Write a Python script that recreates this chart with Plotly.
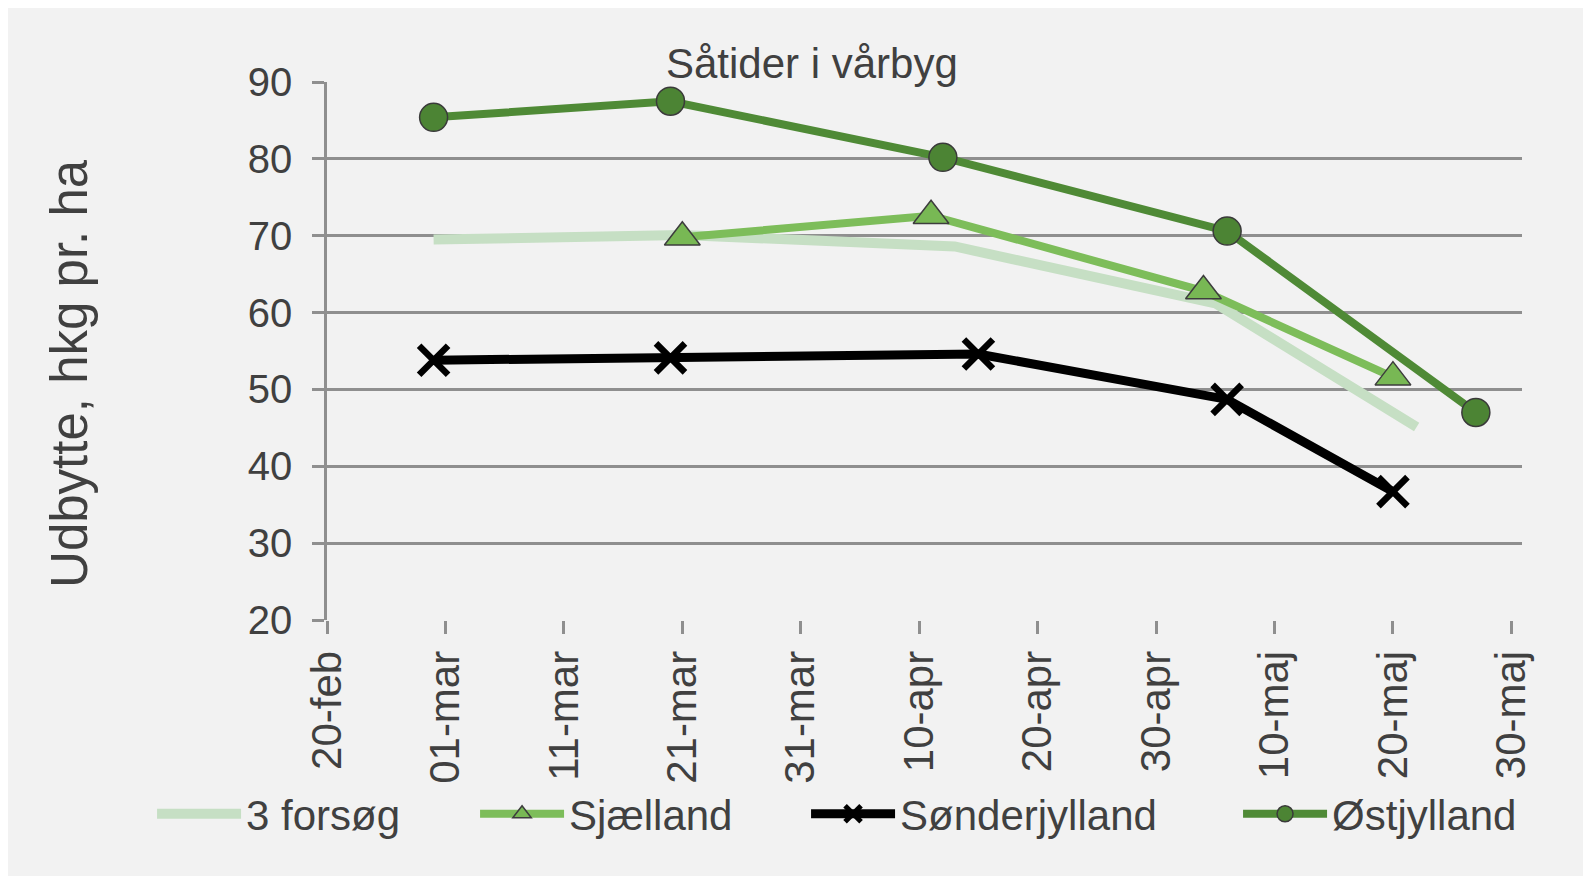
import plotly.graph_objects as go

# ---- data ----
title_text = "Såtider i vårbyg"
y_title = "Udbytte, hkg pr. ha"

tick_dates = ["2020-02-20", "2020-03-01", "2020-03-11", "2020-03-21", "2020-03-31",
              "2020-04-10", "2020-04-20", "2020-04-30", "2020-05-10", "2020-05-20", "2020-05-30"]
tick_labels = ["20-feb", "01-mar", "11-mar", "21-mar", "31-mar",
               "10-apr", "20-apr", "30-apr", "10-maj", "20-maj", "30-maj"]

forsoeg_dates = ["2020-02-29", "2020-03-21", "2020-04-13", "2020-05-05", "2020-05-22"]
forsoeg_vals = [69.5, 70.1, 68.6, 61.2, 45.1]

sjaelland_dates = ["2020-03-21", "2020-04-11", "2020-05-04", "2020-05-20"]
sjaelland_vals = [69.8, 72.6, 62.8, 51.6]

sonder_dates = ["2020-02-29", "2020-03-20", "2020-04-15", "2020-05-06", "2020-05-20"]
sonder_vals = [53.8, 54.1, 54.6, 48.7, 36.7]

ost_dates = ["2020-02-29", "2020-03-20", "2020-04-12", "2020-05-06", "2020-05-27"]
ost_vals = [85.4, 87.5, 80.2, 70.6, 47.0]

series_names = ["3 forsøg", "Sjælland", "Sønderjylland", "Østjylland"]

# ---- styling ----
FONT = "Liberation Sans, Arial, sans-serif"
TXT = "#404040"
GRID = "#8f8f8f"
BG = "#f2f2f2"

fig = go.Figure()

fig.add_trace(go.Scatter(
    x=forsoeg_dates, y=forsoeg_vals, name=series_names[0], mode="lines",
    line=dict(color="#c6dfc4", width=10), legendwidth=224))

fig.add_trace(go.Scatter(
    x=sjaelland_dates, y=sjaelland_vals, name=series_names[1], mode="lines+markers",
    line=dict(color="#7dbd5a", width=8),
    marker=dict(symbol="triangle-up", size=31, color="#78b854",
                line=dict(color="#3d3d3d", width=1.5)),
    legendwidth=232))

fig.add_trace(go.Scatter(
    x=sonder_dates, y=sonder_vals, name=series_names[2], mode="lines+markers",
    line=dict(color="#000000", width=9),
    marker=dict(symbol="x-thin", size=29, color="#000000",
                line=dict(color="#000000", width=6.5)),
    legendwidth=333))

fig.add_trace(go.Scatter(
    x=ost_dates, y=ost_vals, name=series_names[3], mode="lines+markers",
    line=dict(color="#4f8a36", width=8),
    marker=dict(symbol="circle", size=28, color="#4c8434",
                line=dict(color="#3a3a3a", width=1.5)),
    legendwidth=200))

fig.add_annotation(text=title_text, xref="paper", yref="paper",
                   x=0.406, y=1.035, xanchor="center", yanchor="middle",
                   showarrow=False, font=dict(family=FONT, size=42, color=TXT))

fig.add_annotation(text=y_title, xref="paper", yref="paper",
                   x=-0.216, y=0.459, xanchor="center", yanchor="middle",
                   textangle=-90, showarrow=False,
                   font=dict(family=FONT, size=51, color=TXT))

fig.update_layout(
    width=1591, height=876,
    paper_bgcolor=BG, plot_bgcolor=BG,
    margin=dict(l=319, r=77, t=74, b=264, autoexpand=False),
    font=dict(family=FONT, size=42, color=TXT),
    showlegend=True,
    legend=dict(orientation="h", xref="paper", yref="paper",
                x=-0.1464, y=-0.3606, xanchor="left", yanchor="middle",
                itemwidth=84, font=dict(family=FONT, size=42, color=TXT),
                bgcolor="rgba(0,0,0,0)", tracegroupgap=0),
    xaxis=dict(type="date", range=["2020-02-20", "2020-05-30 21:30"],
               tickmode="array", tickvals=tick_dates, ticktext=tick_labels,
               tickangle=-90, ticks="outside", ticklen=13, tickwidth=2.5,
               tickcolor=GRID, showgrid=False, showline=False, zeroline=False,
               tickfont=dict(family=FONT, size=42, color=TXT), ticklabelstandoff=0),
    yaxis=dict(range=[20, 90], dtick=10, tick0=20, showgrid=True,
               gridcolor=GRID, gridwidth=2.5, showline=True, linecolor=GRID,
               linewidth=2.5, ticks="outside", ticklen=12, tickwidth=2.5,
               tickcolor=GRID, zeroline=False,
               tickfont=dict(family=FONT, size=40, color=TXT), ticklabelstandoff=12),
)

fig.write_html("out.html")
